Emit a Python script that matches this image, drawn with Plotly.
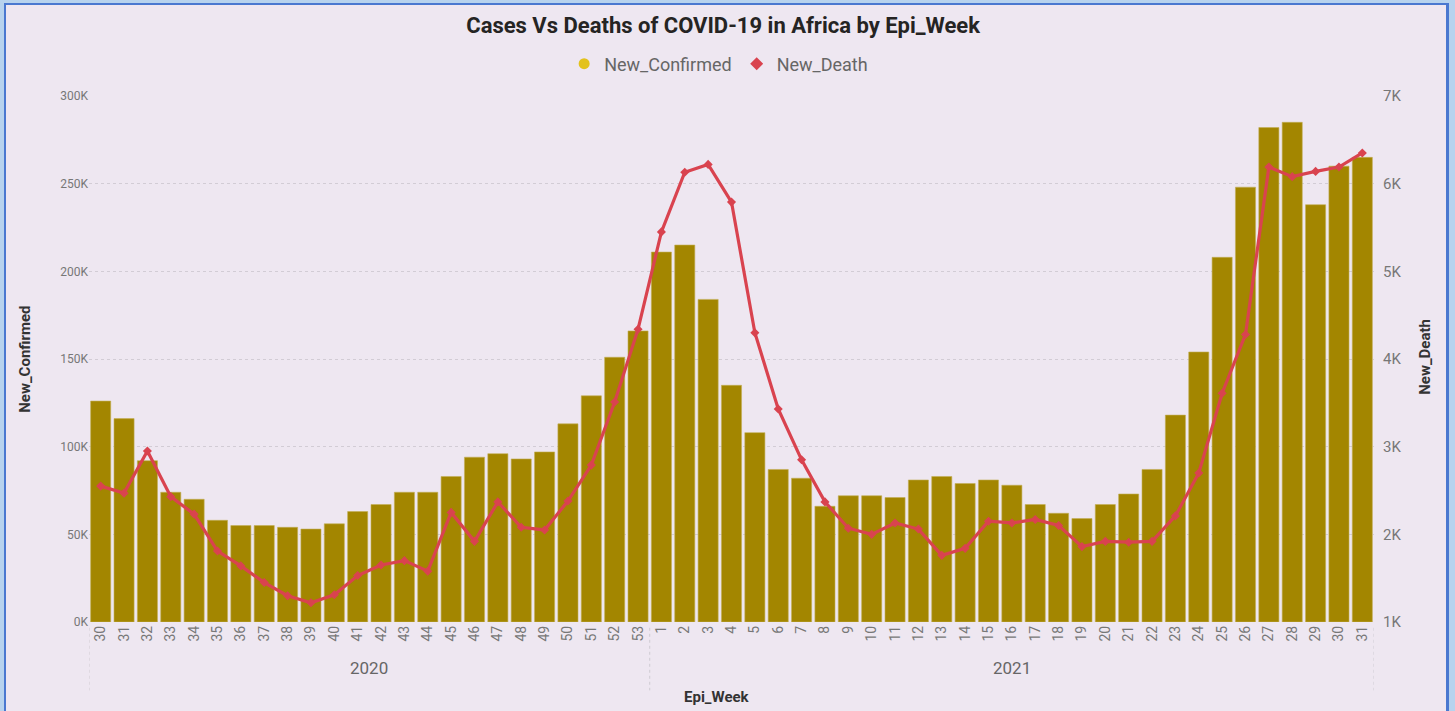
import plotly.graph_objects as go

years = ["2020"] * 24 + ["2021"] * 31
weeks = [str(w) for w in range(30, 54)] + [str(w) for w in range(1, 32)]

new_confirmed = [
    126000, 116000, 92000, 74000, 70000, 58000, 55000, 55000, 54000, 53000,
    56000, 63000, 67000, 74000, 74000, 83000, 94000, 96000, 93000, 97000,
    113000, 129000, 151000, 166000,
    211000, 215000, 184000, 135000, 108000, 87000, 82000, 66000, 72000, 72000,
    71000, 81000, 83000, 79000, 81000, 78000, 67000, 62000, 59000, 67000,
    73000, 87000, 118000, 154000, 208000, 248000, 282000, 285000, 238000, 260000,
    265000,
]
new_death = [
    2550, 2470, 2950, 2430, 2230, 1810, 1640, 1450, 1300, 1220,
    1310, 1530, 1650, 1700, 1580, 2250, 1920, 2370, 2080, 2050,
    2380, 2790, 3510, 4340,
    5450, 6130, 6220, 5790, 4300, 3430, 2850, 2370, 2070, 2000,
    2130, 2060, 1760, 1840, 2150, 2130, 2170, 2100, 1860, 1920,
    1910, 1920, 2210, 2700, 3610, 4280, 6190, 6080, 6140, 6190,
    6350,
]
left_ticks = [0, 50000, 100000, 150000, 200000, 250000, 300000]
left_tick_text = ["0K", "50K", "100K", "150K", "200K", "250K", "300K"]
right_ticks = [1000, 2000, 3000, 4000, 5000, 6000, 7000]
right_tick_text = ["1K", "2K", "3K", "4K", "5K", "6K", "7K"]
year_labels = ["2020", "2021"]

cats = [f"{y}-{w}" for y, w in zip(years, weeks)]

BG = "#EEE7F1"
BAR = "#A38600"
LINE = "#D9434F"
GRID = "#D2CCD5"
TICK = "#777777"
FONT = "Roboto"

fig = go.Figure()
fig.add_trace(go.Bar(
    x=cats, y=new_confirmed, name="New_Confirmed",
    marker=dict(color=BAR, line=dict(color="#C2AE55", width=0.6)),
    showlegend=False, yaxis="y",
))
fig.add_trace(go.Scatter(
    x=cats, y=new_death, name="New_Death", mode="lines+markers",
    line=dict(color=LINE, width=3.2),
    marker=dict(symbol="diamond", size=7, color=LINE),
    showlegend=False, yaxis="y2",
))
# legend-only entries (Power BI style markers)
fig.add_trace(go.Scatter(
    x=[None], y=[None], name="New_Confirmed", mode="markers",
    marker=dict(symbol="circle", size=11, color="#E3C21C"), yaxis="y",
))
fig.add_trace(go.Scatter(
    x=[None], y=[None], name="New_Death", mode="markers",
    marker=dict(symbol="diamond", size=10, color=LINE), yaxis="y",
))

# year group labels and dividers
n2020 = years.count("2020")
n2021 = years.count("2021")
centers = [(n2020 - 1) / 2, n2020 + (n2021 - 1) / 2]
annotations = []
for lab, c in zip(year_labels, centers):
    annotations.append(dict(
        x=c, y=-0.0875, xref="x", yref="paper", text=lab, showarrow=False,
        font=dict(family=FONT, size=17, color="#666666"), yanchor="middle",
    ))
shapes = []
for xv in [-0.5, n2020 - 0.5, len(cats) - 0.5]:
    shapes.append(dict(
        type="line", xref="x", yref="paper", x0=xv, x1=xv, y0=-0.011, y1=-0.13,
        line=dict(color="#CFCBD2", width=1, dash="dot"),
    ))

annotations += [
    dict(x=0.489, y=-0.143, xref="paper", yref="paper", text="<b>Epi_Week</b>",
         showarrow=False, font=dict(family=FONT, size=15, color="#333333"),
         yanchor="middle"),
    dict(x=-0.05, y=0.5, xref="paper", yref="paper", text="<b>New_Confirmed</b>",
         showarrow=False, textangle=-90,
         font=dict(family=FONT, size=15, color="#333333"), xanchor="center"),
    dict(x=1.04, y=0.505, xref="paper", yref="paper", text="<b>New_Death</b>",
         showarrow=False, textangle=-90,
         font=dict(family=FONT, size=15, color="#333333"), xanchor="center"),
]

# frame (visual border)
def px_x(p):
    return (p - 89) / (1374 - 89)

def px_y(p):
    return (622 - p) / (622 - 96)

shapes += [
    dict(type="rect", xref="paper", yref="paper", x0=px_x(0), x1=px_x(4),
         y0=px_y(711), y1=px_y(0), fillcolor="#B7D3EE", line=dict(width=0), layer="above"),
    dict(type="rect", xref="paper", yref="paper", x0=px_x(4), x1=px_x(6),
         y0=px_y(711), y1=px_y(3), fillcolor="#4A78D0", line=dict(width=0), layer="above"),
    dict(type="rect", xref="paper", yref="paper", x0=px_x(0), x1=px_x(1455),
         y0=px_y(3), y1=px_y(0), fillcolor="#B7D3EE", line=dict(width=0), layer="above"),
    dict(type="rect", xref="paper", yref="paper", x0=px_x(4), x1=px_x(1449),
         y0=px_y(5), y1=px_y(3), fillcolor="#4A78D0", line=dict(width=0), layer="above"),
    dict(type="rect", xref="paper", yref="paper", x0=px_x(1446), x1=px_x(1449),
         y0=px_y(711), y1=px_y(3), fillcolor="#4A78D0", line=dict(width=0), layer="above"),
    dict(type="rect", xref="paper", yref="paper", x0=px_x(1449), x1=px_x(1455),
         y0=px_y(711), y1=px_y(0), fillcolor="#B7D3EE", line=dict(width=0), layer="above"),
]

fig.update_layout(
    width=1455, height=711,
    margin=dict(l=89, r=81, t=96, b=89),
    paper_bgcolor=BG, plot_bgcolor=BG,
    title=dict(text="<b>Cases Vs Deaths of COVID-19 in Africa by Epi_Week</b>",
               x=0.497, xanchor="center", y=1 - 25 / 711, yanchor="middle",
               yref="container",
               font=dict(family=FONT, size=22, color="#252423")),
    legend=dict(orientation="h", x=0.49, xanchor="center", y=px_y(64), yanchor="middle",
                font=dict(family=FONT, size=18, color="#666666"),
                itemwidth=30, bgcolor="rgba(0,0,0,0)"),
    bargap=0.14,
    xaxis=dict(
        type="category", tickmode="array", tickvals=cats, ticktext=weeks,
        tickangle=-90, tickfont=dict(family=FONT, size=14, color=TICK),
        showgrid=False, zeroline=False, showline=False, ticks="",
        range=[-0.5, len(cats) - 0.5],
    ),
    yaxis=dict(
        range=[0, 300000], tickvals=left_ticks, ticktext=left_tick_text,
        tickfont=dict(family=FONT, size=12, color=TICK),
        showgrid=True, gridcolor=GRID, griddash="dot", gridwidth=1,
        zeroline=False, showline=False, ticks="",
    ),
    yaxis2=dict(
        range=[1000, 7000], tickvals=right_ticks, ticktext=right_tick_text,
        overlaying="y", side="right",
        tickfont=dict(family=FONT, size=15, color=TICK),
        showgrid=False, zeroline=False, showline=False, ticks="",
        ticklabelstandoff=8,
    ),
    annotations=annotations,
    shapes=shapes,
)

fig.write_html(
    "out.html",
    config={"displayModeBar": False},
    post_script="document.body.style.margin='0';document.body.style.overflow='hidden';",
)
